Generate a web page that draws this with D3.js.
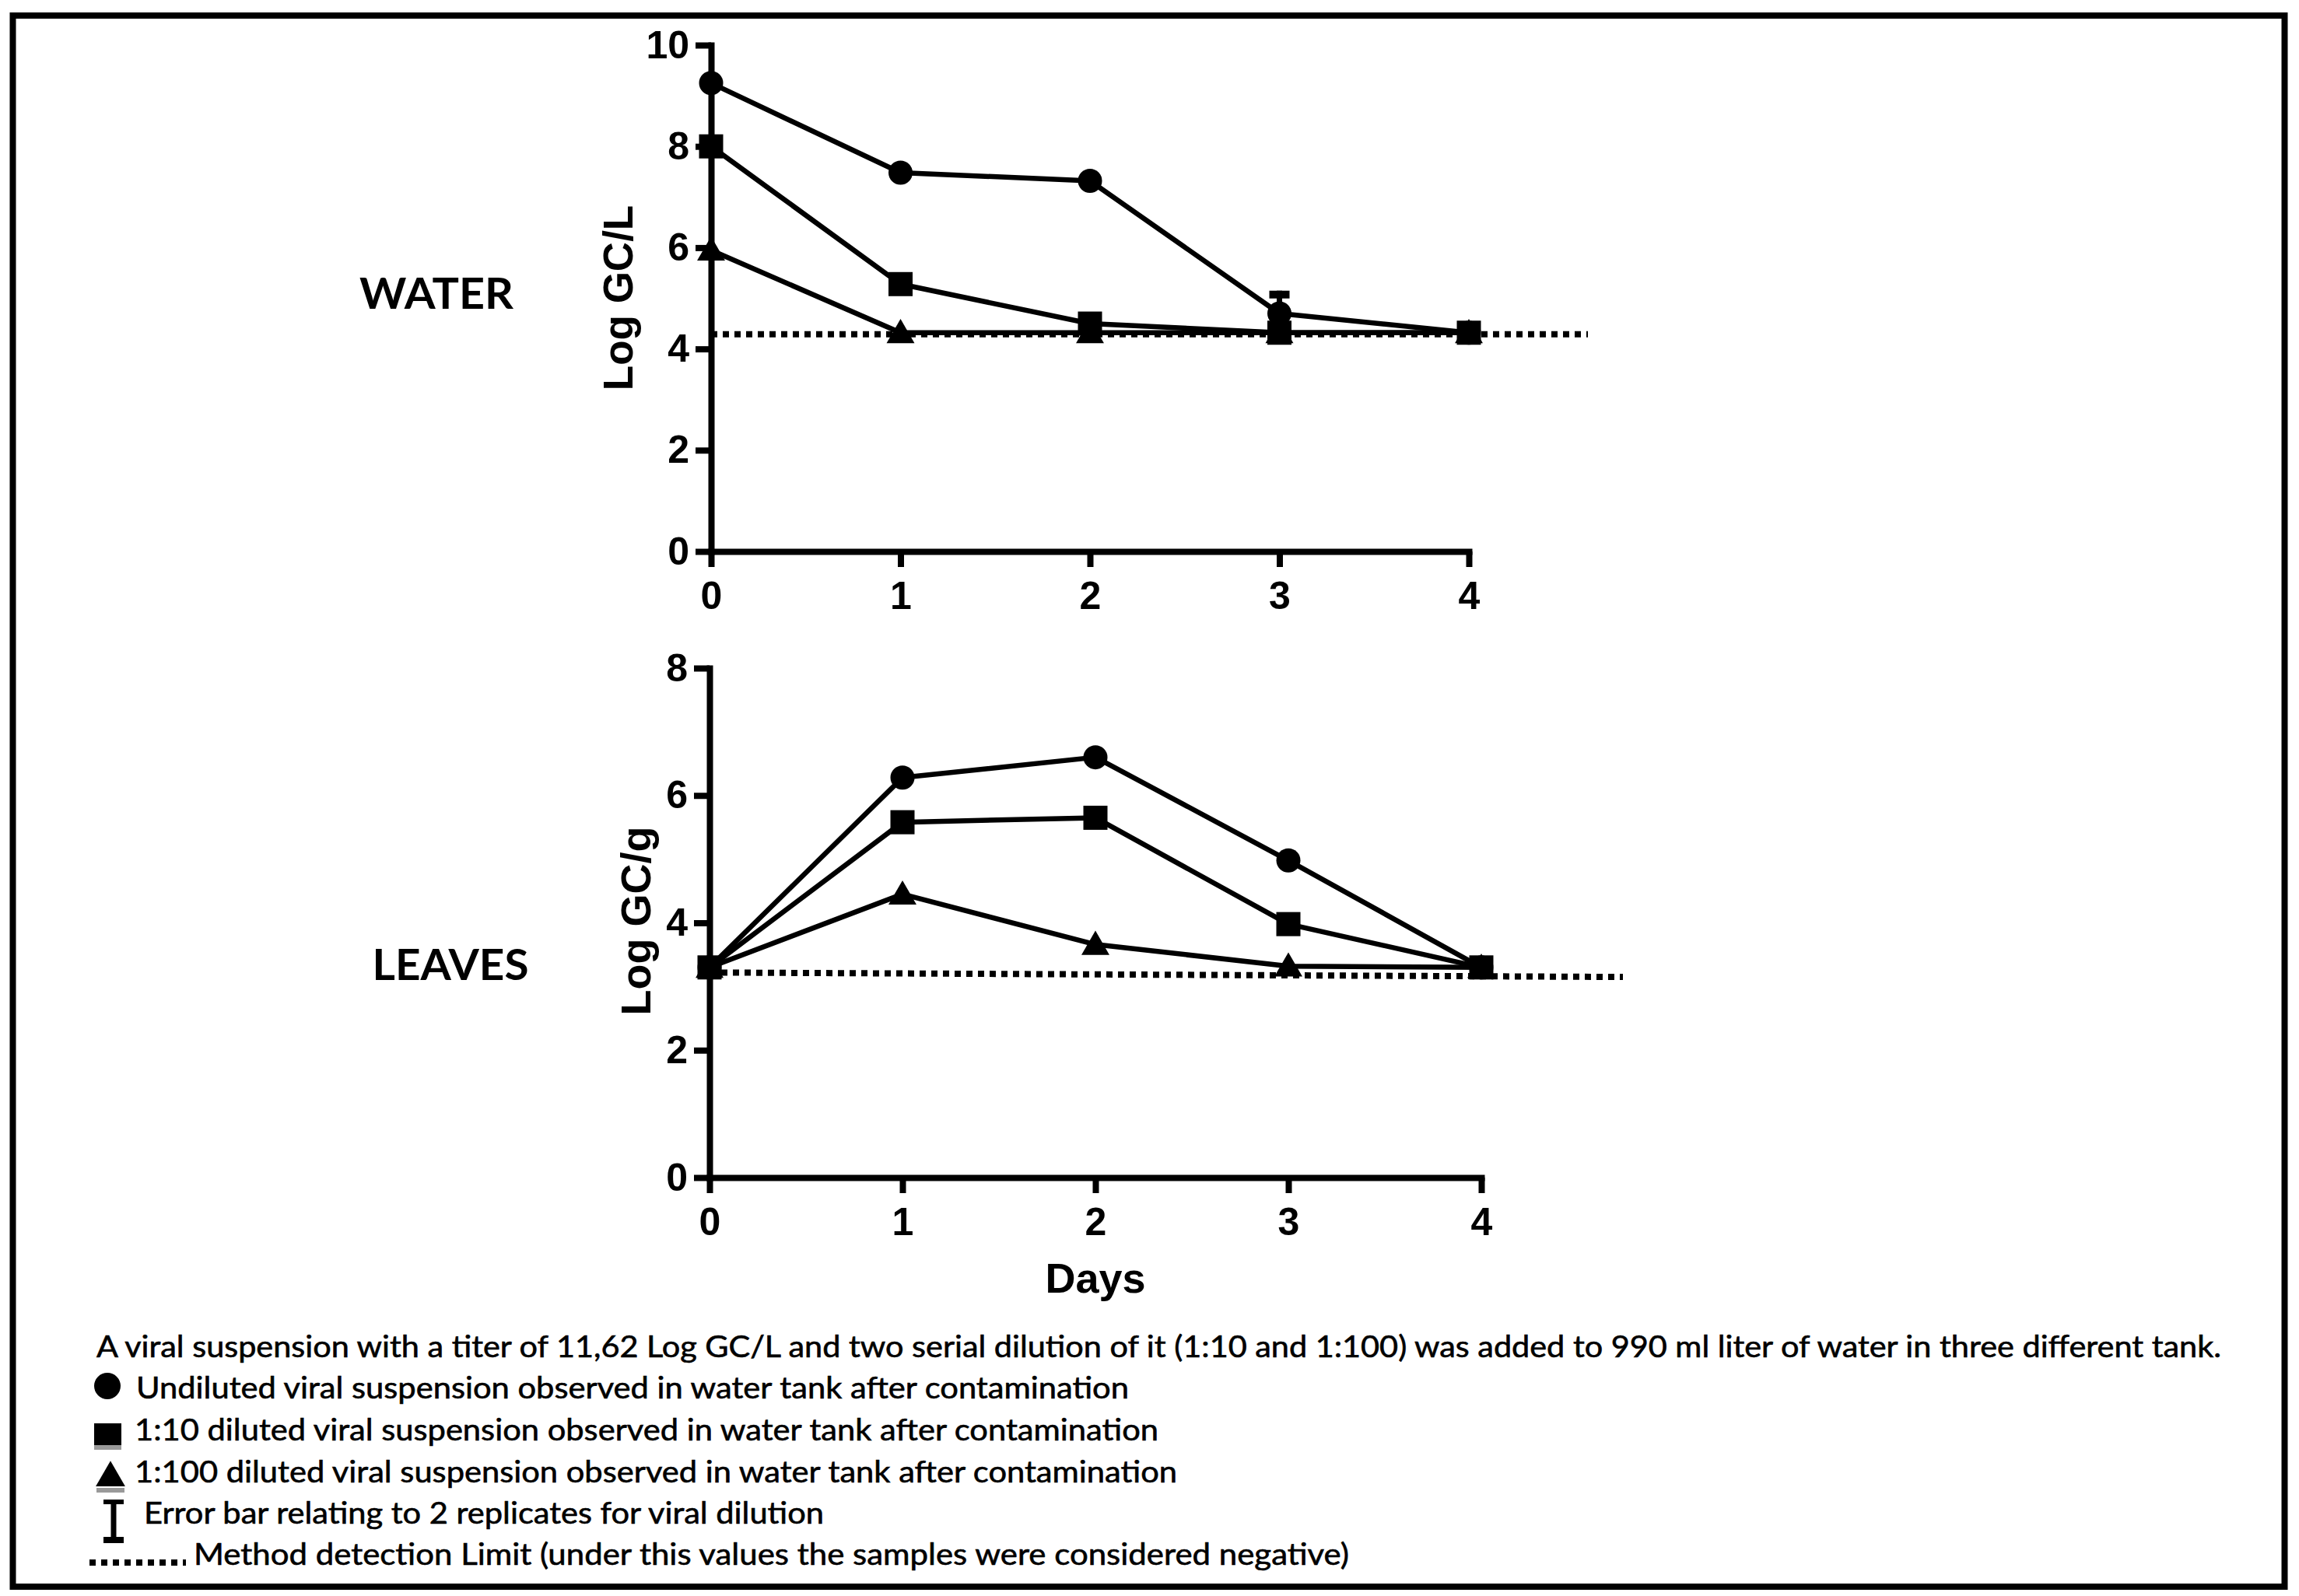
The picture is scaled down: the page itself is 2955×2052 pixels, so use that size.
<!DOCTYPE html>
<html>
<head>
<meta charset="utf-8">
<script src="https://cdn.jsdelivr.net/npm/d3@7"></script>
<style>
  body { margin: 0; background: #fff; }
  .axis path, .axis line { stroke: #000; stroke-width: 8; }
  .axis path { stroke-linecap: square; }
  .axis text { font-family: "Liberation Sans", Arial, sans-serif; font-weight: bold; font-size: 50px; fill: #000; }
  .ylabel, .xlabel { font-family: "Liberation Sans", Arial, sans-serif; font-weight: bold; fill: #000; }
  .panel-name { font-family: Lato, "Open Sans", sans-serif; font-weight: bold; font-size: 55px; }
  .caption { font-family: Lato, "Open Sans", sans-serif; font-size: 38px; fill: #000; stroke: #000; stroke-width: 0.6; }
</style>
</head>
<body>
<svg id="fig"></svg>
<script>
var width = 2955, height = 2052;

// days on the x axis
var days = [0, 1, 2, 3, 4];
var dayTicks = [0, 1, 2, 3, 4];

// WATER panel (Log GC/L)
var waterUndiluted = [9.25, 7.48, 7.32, 4.7, 4.32];
var waterUndilutedErr = [0, 0, 0, 0.45, 0];
var waterDil10 = [8.0, 5.28, 4.5, 4.32, 4.32];
var waterDil100 = [5.95, 4.32, 4.32, 4.32, 4.32];
var waterLimit = [4.29, 4.29];
var waterTicks = [0, 2, 4, 6, 8, 10];

// LEAVES panel (Log GC/g)
var leavesUndiluted = [3.3, 6.28, 6.6, 4.98, 3.3];
var leavesDil10 = [3.3, 5.58, 5.65, 3.98, 3.3];
var leavesDil100 = [3.3, 4.45, 3.66, 3.32, 3.3];
var leavesLimit = [3.22, 3.15];
var leavesTicks = [0, 2, 4, 6, 8];

var captionLines = [
  "A viral suspension with a titer of 11,62 Log GC/L and two serial dilution of it (1:10 and 1:100) was added to 990 ml liter of water in three different tank.",
  "Undiluted viral suspension observed in water tank after contamination",
  "1:10 diluted viral suspension observed in water tank after contamination",
  "1:100 diluted viral suspension observed in water tank after contamination",
  "Error bar relating to 2 replicates for viral dilution",
  "Method detection Limit (under this values the samples were considered negative)"
];

var svg = d3.select("#fig")
    .attr("width", width)
    .attr("height", height);

svg.append("rect")
    .attr("width", width).attr("height", height)
    .attr("fill", "#fff");

// outer frame
svg.append("rect")
    .attr("x", 16.5).attr("y", 20)
    .attr("width", 2920).attr("height", 2020)
    .attr("fill", "none")
    .attr("stroke", "#000")
    .attr("stroke-width", 8);

var symCircle = d3.symbol().type(d3.symbolCircle).size(Math.PI * 15.5 * 15.5);
var symSquare = d3.symbol().type(d3.symbolSquare).size(31 * 31);
var symTriangle = d3.symbol().type(d3.symbolTriangle).size(560);

function drawPanel(cfg) {
  var g = svg.append("g");

  var x = d3.scaleLinear().domain([0, 4]).range(cfg.xRange);
  var y = d3.scaleLinear().domain([0, cfg.yMax]).range(cfg.yRange);

  g.append("g")
      .attr("class", "axis")
      .attr("transform", "translate(0," + cfg.yRange[0] + ")")
      .call(d3.axisBottom(x).tickValues(dayTicks).tickFormat(d3.format("d"))
              .tickSize(20).tickSizeOuter(0).tickPadding(18));

  g.append("g")
      .attr("class", "axis")
      .attr("transform", "translate(" + cfg.xRange[0] + ",0)")
      .call(d3.axisLeft(y).tickValues(cfg.yTicks).tickFormat(d3.format("d"))
              .tickSize(20).tickSizeOuter(0).tickPadding(8));

  // detection limit
  g.append("line")
      .attr("x1", x(0)).attr("x2", x(0) + cfg.limitLen)
      .attr("y1", y(cfg.limit[0])).attr("y2", y(cfg.limit[1]))
      .attr("stroke", "#000")
      .attr("stroke-width", 8)
      .attr("stroke-dasharray", "8,7");

  var line = d3.line()
      .x((d, i) => x(days[i]))
      .y(d => y(d));

  var series = [
    { values: cfg.undiluted, sym: symCircle, err: cfg.err },
    { values: cfg.dil100, sym: symTriangle },
    { values: cfg.dil10, sym: symSquare }
  ];

  series.forEach(s => {
    g.append("path")
        .attr("d", line(s.values))
        .attr("fill", "none")
        .attr("stroke", "#000")
        .attr("stroke-width", 6.5)
        .attr("stroke-linejoin", "round");
  });

  series.forEach(s => {
    if (s.err) {
      s.values.forEach((v, i) => {
        if (!s.err[i]) return;
        g.append("line")
            .attr("x1", x(days[i])).attr("x2", x(days[i]))
            .attr("y1", y(v - s.err[i])).attr("y2", y(v + s.err[i]))
            .attr("stroke", "#000").attr("stroke-width", 7);
        g.append("line")
            .attr("x1", x(days[i]) - 13).attr("x2", x(days[i]) + 13)
            .attr("y1", y(v + s.err[i]) + 5).attr("y2", y(v + s.err[i]) + 5)
            .attr("stroke", "#000").attr("stroke-width", 10);
      });
    }
    g.selectAll(null)
        .data(s.values)
        .enter().append("path")
        .attr("d", s.sym)
        .attr("transform", (d, i) => "translate(" + x(days[i]) + "," + (y(d) + (s.sym === symTriangle ? 3 : 0)) + ")")
        .attr("fill", "#000");
  });

  g.append("text")
      .attr("class", "ylabel")
      .attr("transform", "translate(" + cfg.yLabelPos[0] + "," + cfg.yLabelPos[1] + ") rotate(-90)")
      .attr("text-anchor", "middle")
      .attr("font-size", cfg.yLabelSize + "px")
      .text(cfg.yLabel);

  g.append("text")
      .attr("class", "panel-name")
      .attr("x", cfg.namePos[0]).attr("y", cfg.namePos[1])
      .attr("text-anchor", "middle")
      .attr("textLength", cfg.nameLen)
      .attr("lengthAdjust", "spacingAndGlyphs")
      .text(cfg.name);

  return x;
}

drawPanel({
  xRange: [914, 1888], yRange: [709, 58], yMax: 10, yTicks: waterTicks,
  undiluted: waterUndiluted, err: waterUndilutedErr, dil10: waterDil10, dil100: waterDil100,
  limit: waterLimit, limitLen: 1127,
  yLabel: "Log GC/L", yLabelPos: [813, 383], yLabelSize: 53,
  name: "WATER", namePos: [561, 397], nameLen: 198
});

var xLeaves = drawPanel({
  xRange: [912, 1904], yRange: [1514, 859], yMax: 8, yTicks: leavesTicks,
  undiluted: leavesUndiluted, err: null, dil10: leavesDil10, dil100: leavesDil100,
  limit: leavesLimit, limitLen: 1174,
  yLabel: "Log GC/g", yLabelPos: [836, 1184], yLabelSize: 54,
  name: "LEAVES", namePos: [579, 1260], nameLen: 201
});

svg.append("text")
    .attr("class", "xlabel")
    .attr("x", xLeaves(2)).attr("y", 1662)
    .attr("text-anchor", "middle")
    .attr("font-size", "54px")
    .text("Days");

// caption and legend
var capX = [124, 175, 173, 173, 185, 249];
var capY = [1745, 1798, 1852, 1906, 1959, 2012];
var capLen = [2731, 1276, 1316, 1340, 874, 1485];

svg.selectAll(".caption")
    .data(captionLines)
    .enter().append("text")
    .attr("class", "caption")
    .attr("x", (d, i) => capX[i])
    .attr("y", (d, i) => capY[i])
    .attr("textLength", (d, i) => capLen[i])
    .attr("lengthAdjust", "spacingAndGlyphs")
    .text(d => d);

var lg = svg.append("g");
lg.append("path").attr("d", d3.symbol().type(d3.symbolCircle).size(Math.PI * 17 * 17))
    .attr("transform", "translate(138,1782)");
lg.append("rect").attr("x", 121).attr("y", 1857).attr("width", 35).attr("height", 7).attr("fill", "#999");
lg.append("rect").attr("x", 121).attr("y", 1830).attr("width", 35).attr("height", 28);
lg.append("rect").attr("x", 124).attr("y", 1913).attr("width", 36).attr("height", 6).attr("fill", "#999");
lg.append("path").attr("d", d3.symbol().type(d3.symbolTriangle).size(620))
    .attr("transform", "translate(142,1900)");
lg.append("line").attr("x1", 146).attr("x2", 146).attr("y1", 1928).attr("y2", 1984)
    .attr("stroke", "#000").attr("stroke-width", 7);
lg.append("line").attr("x1", 133).attr("x2", 159).attr("y1", 1931).attr("y2", 1931)
    .attr("stroke", "#000").attr("stroke-width", 6);
lg.append("line").attr("x1", 133).attr("x2", 159).attr("y1", 1980).attr("y2", 1980)
    .attr("stroke", "#000").attr("stroke-width", 8);
lg.append("line").attr("x1", 115).attr("x2", 239).attr("y1", 2009).attr("y2", 2009)
    .attr("stroke", "#000").attr("stroke-width", 8).attr("stroke-dasharray", "8,7");
</script>
</body>
</html>
